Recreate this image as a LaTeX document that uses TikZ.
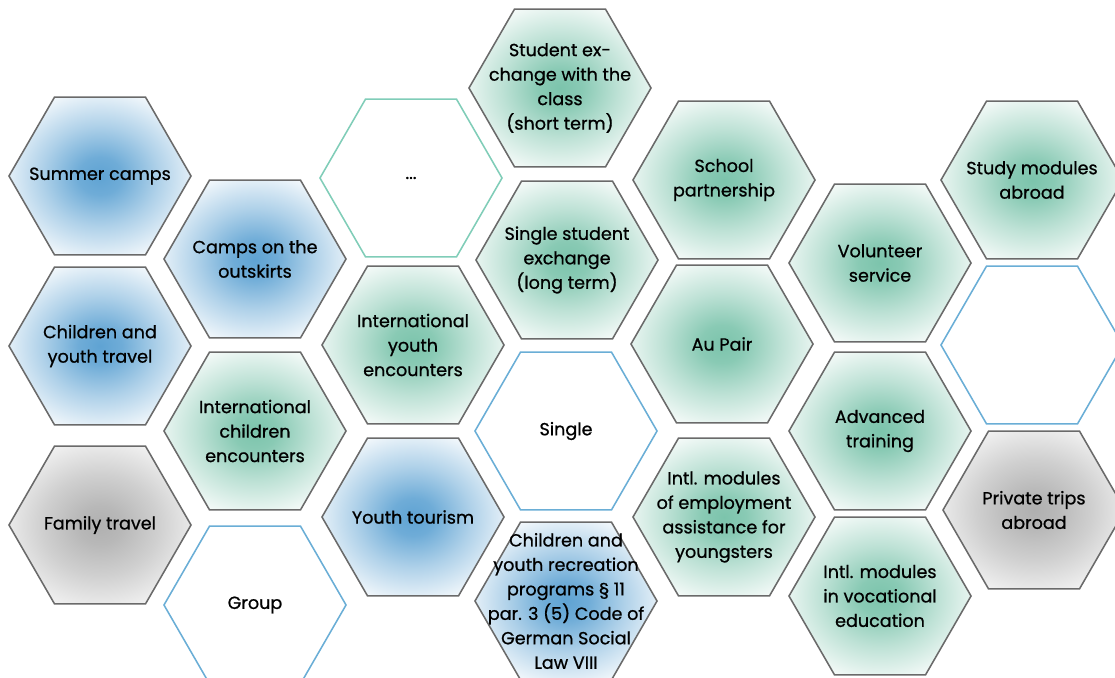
\documentclass[tikz,border=0pt]{standalone}
\usepackage{fontspec}
\setmainfont{Poppins}[FakeBold=0.8]
\usetikzlibrary{shapes.geometric}

\definecolor{glowblue}{HTML}{5FA3D3}
\definecolor{glowgreen}{HTML}{7CC4AC}
\definecolor{glowgray}{HTML}{B0B0B0}
\definecolor{cellgray}{HTML}{6A6A6A}
\definecolor{edgeblue}{HTML}{6AAED6}
\definecolor{edgegreen}{HTML}{80CDB8}

\pgfdeclareradialshading{blueglow}{\pgfpoint{0bp}{0bp}}{color(0bp)=(glowblue); color(6bp)=(glowblue!90!white); color(16bp)=(glowblue!50!white); color(30bp)=(white); color(50bp)=(white)}
\pgfdeclareradialshading{greenglow}{\pgfpoint{0bp}{0bp}}{color(0bp)=(glowgreen); color(6bp)=(glowgreen!90!white); color(16bp)=(glowgreen!50!white); color(30bp)=(white); color(50bp)=(white)}
\pgfdeclareradialshading{grayglow}{\pgfpoint{0bp}{0bp}}{color(0bp)=(glowgray); color(6bp)=(glowgray!90!white); color(16bp)=(glowgray!60!white); color(30bp)=(gray!6); color(50bp)=(gray!6)}

\tikzset{
	hexcell/.style={regular polygon, regular polygon sides=6, minimum size=4.55cm, inner sep=0pt, draw=cellgray, line width=1.1pt},
	bluecell/.style={hexcell, shade, shading=blueglow},
	greencell/.style={hexcell, shade, shading=greenglow},
	graycell/.style={hexcell, shade, shading=grayglow},
	blueedge/.style={hexcell, draw=edgeblue, fill=white},
	greenedge/.style={hexcell, draw=edgegreen, fill=white},
	celltext/.style={align=center, inner sep=0pt, font=\fontsize{12.5}{17.4}\selectfont}
}

\begin{document}
\begin{tikzpicture}[x=0.025cm, y=-0.025cm]
	\useasboundingbox (0,0) rectangle (1115,677);

	% first column
	\node[bluecell] (summer) at (100,176) {};
	\node[celltext] (summer-t) at (summer) {Summer camps};
	\node[bluecell] (travel) at (100,346) {};
	\node[celltext] (travel-t) at (travel) {Children and\\youth travel};
	\node[graycell] (family) at (100,525) {};
	\node[celltext] (family-t) at (family) {Family travel};

	% second column
	\node[bluecell] (outskirts) at (255,259) {};
	\node[celltext] (outskirts-t) at (outskirts) {Camps on the\\outskirts};
	\node[greencell] (childenc) at (255,431) {};
	\node[celltext] (childenc-t) at (childenc) {International\\children\\encounters};
	\node[blueedge] (group) at (255,605) {};
	\node[celltext] (group-t) at (group) {Group};

	% third column
	\node[greenedge] (more) at (411,178) {};
	\node[celltext] (more-t) at (more) {...};
	\node[greencell] (youthenc) at (413,345) {};
	\node[celltext] (youthenc-t) at (youthenc) {International\\youth\\encounters};
	\node[bluecell] (tourism) at (413,517) {};
	\node[celltext] (tourism-t) at (tourism) {Youth tourism};

	% fourth column
	\node[greencell] (classex) at (560,88) {};
	\node[celltext] (classex-t) at (classex) {Student ex-\\change with the\\class\\(short term)};
	\node[greencell] (singleex) at (567,260) {};
	\node[celltext] (singleex-t) at (singleex) {Single student\\exchange\\(long term)};
	\node[blueedge] (single) at (566,431) {};
	\node[celltext] (single-t) at (single) {Single};
	\node[bluecell] (recreation) at (566,601) {};
	\node[celltext] (recreation-t) at (recreation) {Children and\\youth recreation\\programs § 11\\par. 3 (5) Code of\\German Social\\Law VIII};

	% fifth column
	\node[greencell] (partner) at (724,180) {};
	\node[celltext] (partner-t) at (partner) {School\\partnership};
	\node[greencell] (aupair) at (722,344) {};
	\node[celltext] (aupair-t) at (aupair) {Au Pair};
	\node[greencell] (employ) at (724,517) {};
	\node[celltext] (employ-t) at (employ) {Intl. modules\\of employment\\assistance for\\youngsters};

	% sixth column
	\node[greencell] (volunteer) at (880,263) {};
	\node[celltext] (volunteer-t) at (volunteer) {Volunteer\\service};
	\node[greencell] (advanced) at (880,431) {};
	\node[celltext] (advanced-t) at (advanced) {Advanced\\training};
	\node[greencell] (vocation) at (880,596) {};
	\node[celltext] (vocation-t) at (vocation) {Intl. modules\\in vocational\\education};

	% seventh column
	\node[greencell] (study) at (1032,180) {};
	\node[celltext] (study-t) at (study) {Study modules\\abroad};
	\node[blueedge] (blank) at (1032,345) {};
	\node[graycell] (private) at (1034,510) {};
	\node[celltext] (private-t) at (private) {Private trips\\abroad};
\end{tikzpicture}
\end{document}
